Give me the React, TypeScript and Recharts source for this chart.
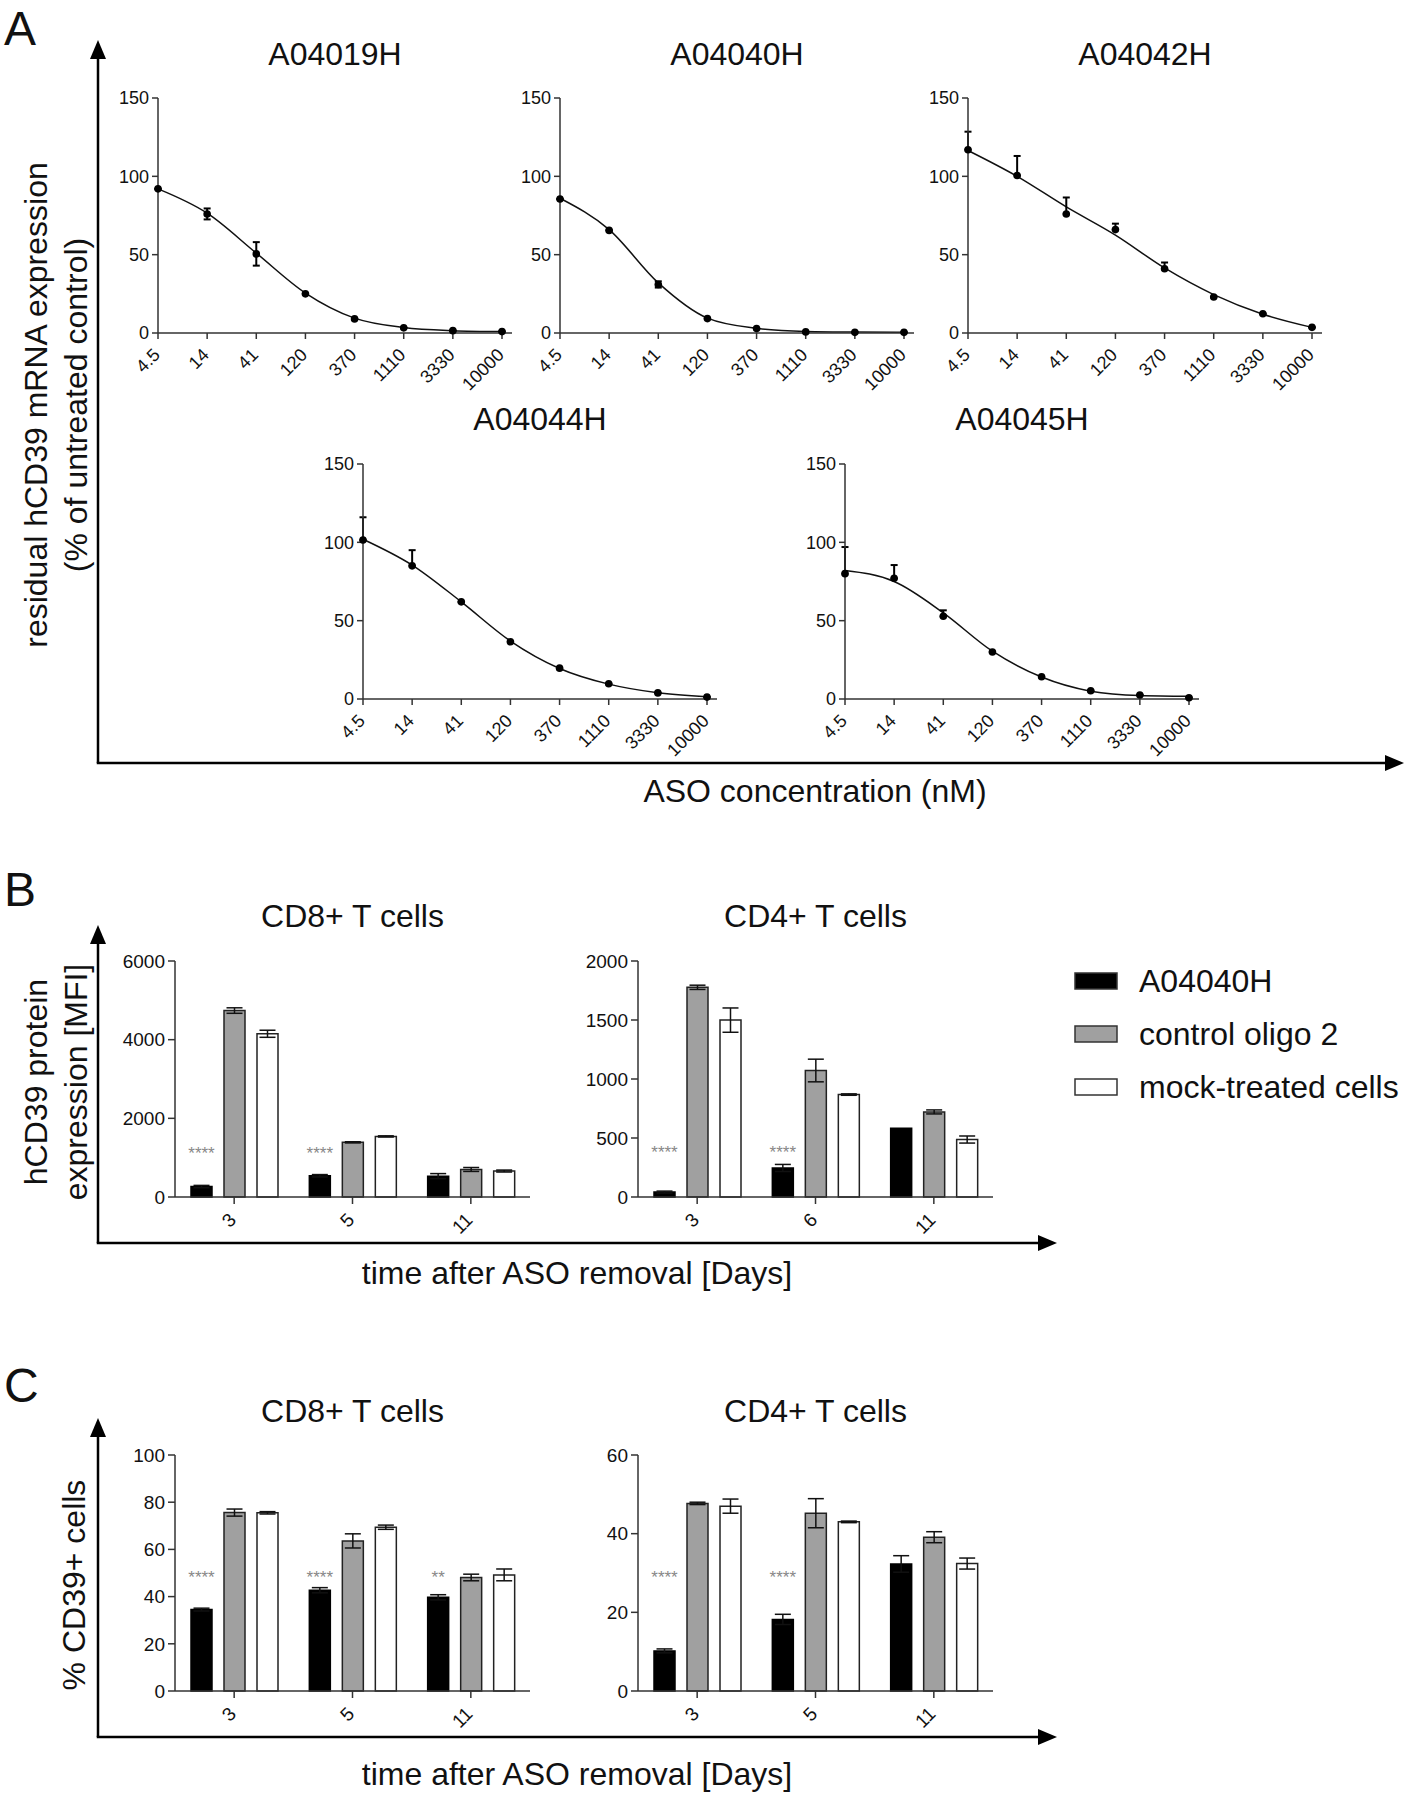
import React from 'react';
import { Bar, BarChart, ErrorBar, LabelList, Line, LineChart, XAxis, YAxis } from 'recharts';

const FONT = '"Liberation Sans", Arial, Helvetica, sans-serif';
const INK = '#111';
const AXIS = '#333';

// ---- panel A: dose response ----
const doses = ['4.5', '14', '41', '120', '370', '1110', '3330', '10000'];
const curveTicks = [0, 50, 100, 150];

const a04019hMean = [92, 76, 50.5, 25, 9, 3.3, 1.5, 0.9];
const a04019hFit = [92, 76.5, 51, 25.5, 9.5, 3.5, 1.5, 0.9];
const a04019hErrLow = [0, 3.5, 7.5, 0, 0, 0, 0, 0];
const a04019hErrHigh = [0, 3.5, 7.5, 0, 0, 0, 0, 0];

const a04040hMean = [85.5, 65.5, 31, 9.2, 2.8, 0.7, 0.4, 0.4];
const a04040hFit = [86, 66, 32, 9.5, 3, 1, 0.6, 0.5];
const a04040hErrLow = [0, 0, 2, 0, 0, 0, 0, 0];
const a04040hErrHigh = [0, 0, 2, 0, 0, 0, 0, 0];

const a04042hMean = [117, 100.5, 76, 66, 41, 23, 12.3, 3.6];
const a04042hFit = [116.5, 100, 80.5, 62.5, 41.5, 24.5, 12, 3.6];
const a04042hErrLow = [0, 0, 0, 0, 0, 0, 0, 0];
const a04042hErrHigh = [11.5, 12.5, 10.5, 3.8, 4, 0, 0, 0];

const a04044hMean = [101.5, 85, 62, 36.5, 19.7, 9.7, 3.9, 1.2];
const a04044hFit = [102, 85.5, 62, 37, 19.5, 9.5, 4, 1.5];
const a04044hErrLow = [0, 0, 0, 0, 0, 0, 0, 0];
const a04044hErrHigh = [14.5, 10, 0, 0, 0, 0, 0, 0];

const a04045hMean = [80, 77, 52.8, 30, 14.2, 5.3, 2.6, 0.8];
const a04045hFit = [82, 75, 55, 30.5, 14, 5, 2.2, 1.7];
const a04045hErrLow = [0, 0, 0, 0, 0, 0, 0, 0];
const a04045hErrHigh = [17, 8.5, 3.8, 0, 0, 0, 0, 0];

// ---- panels B / C: bars ----
const seriesNames = ['A04040H', 'control oligo 2', 'mock-treated cells'];
const seriesFills = ['#000000', '#a0a0a0', '#ffffff'];

const daysB8 = ['3', '5', '11'];
const b8Aso = [265, 540, 530];
const b8AsoErr = [30, 30, 65];
const b8Ctrl = [4740, 1390, 700];
const b8CtrlErr = [70, 15, 50];
const b8Mock = [4150, 1540, 660];
const b8MockErr = [90, 15, 25];
const b8Stars = ['****', '****', ''];

const daysB4 = ['3', '6', '11'];
const b4Aso = [42, 246, 583];
const b4AsoErr = [8, 30, 0];
const b4Ctrl = [1777, 1072, 721];
const b4CtrlErr = [18, 96, 17];
const b4Mock = [1499, 868, 487];
const b4MockErr = [103, 6, 30];
const b4Stars = ['****', '****', ''];

const daysC8 = ['3', '5', '11'];
const c8Aso = [34.5, 42.7, 39.7];
const c8AsoErr = [0.6, 1.1, 1.1];
const c8Ctrl = [75.6, 63.6, 48.1];
const c8CtrlErr = [1.5, 3, 1.4];
const c8Mock = [75.5, 69.4, 49.2];
const c8MockErr = [0.5, 0.9, 2.5];
const c8Stars = ['****', '****', '**'];

const daysC4 = ['3', '5', '11'];
const c4Aso = [10.2, 18.2, 32.3];
const c4AsoErr = [0.5, 1.3, 2.1];
const c4Ctrl = [47.7, 45.2, 39.1];
const c4CtrlErr = [0.3, 3.7, 1.4];
const c4Mock = [47.0, 43.0, 32.4];
const c4MockErr = [1.8, 0.2, 1.4];
const c4Stars = ['****', '****', ''];

type Rect = { left: number; top: number; right: number; bottom: number };

const Y_W = 60;
const PAD_T = 14;
const PAD_R = 14;
const X_H = 70;

function place(r: Rect) {
  return {
    style: { position: 'absolute' as const, left: r.left - Y_W, top: r.top - PAD_T },
    width: Y_W + (r.right - r.left) + PAD_R,
    height: PAD_T + (r.bottom - r.top) + X_H,
    margin: { top: PAD_T, right: PAD_R, left: 0, bottom: 0 },
  };
}

const mid = (r: Rect) => (r.left + r.right) / 2;

function DiagTick(props: any) {
  const { x, y, payload, size } = props;
  const ax = x + 3;
  const ay = y + 15;
  return (
    <text x={ax} y={ay} transform={`rotate(-45 ${ax} ${ay})`} textAnchor="end" fontSize={size} fill={INK} fontFamily={FONT}>
      {payload.value}
    </text>
  );
}

type Compound = { name: string; mean: number[]; fit: number[]; lo: number[]; hi: number[]; rect: Rect; titleY: number };

const compounds: Compound[] = [
  { name: 'A04019H', mean: a04019hMean, fit: a04019hFit, lo: a04019hErrLow, hi: a04019hErrHigh, rect: { left: 158, top: 98, right: 512, bottom: 333 }, titleY: 65 },
  { name: 'A04040H', mean: a04040hMean, fit: a04040hFit, lo: a04040hErrLow, hi: a04040hErrHigh, rect: { left: 560, top: 98, right: 914, bottom: 333 }, titleY: 65 },
  { name: 'A04042H', mean: a04042hMean, fit: a04042hFit, lo: a04042hErrLow, hi: a04042hErrHigh, rect: { left: 968, top: 98, right: 1322, bottom: 333 }, titleY: 65 },
  { name: 'A04044H', mean: a04044hMean, fit: a04044hFit, lo: a04044hErrLow, hi: a04044hErrHigh, rect: { left: 363, top: 464, right: 717, bottom: 699 }, titleY: 430 },
  { name: 'A04045H', mean: a04045hMean, fit: a04045hFit, lo: a04045hErrLow, hi: a04045hErrHigh, rect: { left: 845, top: 464, right: 1199, bottom: 699 }, titleY: 430 },
];

function DoseCurve({ c }: { c: Compound }) {
  const rows = doses.map((dose, i) => ({ dose, mean: c.mean[i], fit: c.fit[i], err: [c.lo[i], c.hi[i]] }));
  const p = place(c.rect);
  return (
    <div style={p.style}>
      <LineChart width={p.width} height={p.height} data={rows} margin={p.margin}>
        <XAxis
          dataKey="dose"
          scale="point"
          interval={0}
          height={X_H}
          padding={{ left: 0, right: 10 }}
          tickSize={6}
          tickMargin={2}
          stroke={AXIS}
          strokeWidth={1.5}
          tick={<DiagTick size={18} />}
        />
        <YAxis
          width={Y_W}
          domain={[0, 150]}
          ticks={curveTicks}
          interval={0}
          tickSize={6}
          tickMargin={3}
          stroke={AXIS}
          strokeWidth={1.5}
          tick={{ fontSize: 18, fill: INK, fontFamily: FONT }}
        />
        <Line dataKey="fit" type="monotone" stroke="#111" strokeWidth={1.5} dot={false} activeDot={false} isAnimationActive={false} />
        <Line dataKey="mean" stroke="none" dot={{ r: 3.8, fill: '#000', stroke: '#000', strokeWidth: 0 }} activeDot={false} isAnimationActive={false}>
          <ErrorBar dataKey="err" direction="y" width={3.5} stroke="#000" strokeWidth={2} />
        </Line>
      </LineChart>
    </div>
  );
}

type Group = {
  title: string; days: string[]; aso: number[]; asoErr: number[]; ctrl: number[]; ctrlErr: number[];
  mock: number[]; mockErr: number[]; stars: string[]; starLevel: number; max: number; ticks: number[]; rect: Rect; titleY: number;
};

const groups: Group[] = [
  { title: 'CD8+ T cells', days: daysB8, aso: b8Aso, asoErr: b8AsoErr, ctrl: b8Ctrl, ctrlErr: b8CtrlErr, mock: b8Mock, mockErr: b8MockErr, stars: b8Stars, starLevel: 1230, max: 6000, ticks: [0, 2000, 4000, 6000], rect: { left: 175, top: 961, right: 530, bottom: 1197 }, titleY: 927 },
  { title: 'CD4+ T cells', days: daysB4, aso: b4Aso, asoErr: b4AsoErr, ctrl: b4Ctrl, ctrlErr: b4CtrlErr, mock: b4Mock, mockErr: b4MockErr, stars: b4Stars, starLevel: 416, max: 2000, ticks: [0, 500, 1000, 1500, 2000], rect: { left: 638, top: 961, right: 993, bottom: 1197 }, titleY: 927 },
  { title: 'CD8+ T cells', days: daysC8, aso: c8Aso, asoErr: c8AsoErr, ctrl: c8Ctrl, ctrlErr: c8CtrlErr, mock: c8Mock, mockErr: c8MockErr, stars: c8Stars, starLevel: 49.8, max: 100, ticks: [0, 20, 40, 60, 80, 100], rect: { left: 175, top: 1455, right: 530, bottom: 1691 }, titleY: 1422 },
  { title: 'CD4+ T cells', days: daysC4, aso: c4Aso, asoErr: c4AsoErr, ctrl: c4Ctrl, ctrlErr: c4CtrlErr, mock: c4Mock, mockErr: c4MockErr, stars: c4Stars, starLevel: 29.9, max: 60, ticks: [0, 20, 40, 60], rect: { left: 638, top: 1455, right: 993, bottom: 1691 }, titleY: 1422 },
];

function StarMark(props: any) {
  const { index, value, rows, level } = props;
  if (!value) return null;
  const vb = props.viewBox && props.viewBox.width !== undefined ? props.viewBox : props;
  const { x, y, width, height } = vb;
  const row = rows[index];
  if (!row || !row.a || !height) return null;
  const base = y + height;
  const sy = base - (level / row.a) * height;
  return (
    <text x={x + width / 2} y={sy + 10} textAnchor="middle" fontSize={17} fill="#888" fontFamily={FONT}>
      {value}
    </text>
  );
}

function GroupBars({ g }: { g: Group }) {
  const rows = g.days.map((day, i) => ({
    day, a: g.aso[i], aErr: g.asoErr[i], c: g.ctrl[i], cErr: g.ctrlErr[i], m: g.mock[i], mErr: g.mockErr[i], star: g.stars[i],
  }));
  const p = place(g.rect);
  return (
    <div style={p.style}>
      <BarChart width={p.width} height={p.height} data={rows} margin={p.margin} barGap={12}>
        <XAxis dataKey="day" interval={0} height={X_H} tickSize={7} tickMargin={2} stroke={AXIS} strokeWidth={1.5} tick={<DiagTick size={19} />} />
        <YAxis
          width={Y_W}
          domain={[0, g.max]}
          ticks={g.ticks}
          interval={0}
          tickSize={7}
          tickMargin={3}
          stroke={AXIS}
          strokeWidth={1.5}
          tick={{ fontSize: 19, fill: INK, fontFamily: FONT }}
        />
        <Bar dataKey="a" barSize={21} fill={seriesFills[0]} stroke="#000" strokeWidth={1.5} isAnimationActive={false}>
          <ErrorBar dataKey="aErr" direction="y" width={8} stroke="#111" strokeWidth={1.5} />
          <LabelList dataKey="star" content={(lp: any) => <StarMark {...lp} rows={rows} level={g.starLevel} />} />
        </Bar>
        <Bar dataKey="c" barSize={21} fill={seriesFills[1]} stroke="#222" strokeWidth={1.5} isAnimationActive={false}>
          <ErrorBar dataKey="cErr" direction="y" width={8} stroke="#111" strokeWidth={1.5} />
        </Bar>
        <Bar dataKey="m" barSize={21} fill={seriesFills[2]} stroke="#222" strokeWidth={1.5} isAnimationActive={false}>
          <ErrorBar dataKey="mErr" direction="y" width={8} stroke="#111" strokeWidth={1.5} />
        </Bar>
      </BarChart>
    </div>
  );
}

function VArrow({ x, tip, base }: { x: number; tip: number; base: number }) {
  return (
    <g>
      <line x1={x} y1={base} x2={x} y2={tip + 12} stroke="#000" strokeWidth={2.5} />
      <polygon points={`${x},${tip} ${x - 8},${tip + 19} ${x + 8},${tip + 19}`} fill="#000" />
    </g>
  );
}

function HArrow({ y, from, tip }: { y: number; from: number; tip: number }) {
  return (
    <g>
      <line x1={from - 1.25} y1={y} x2={tip - 12} y2={y} stroke="#000" strokeWidth={2.5} />
      <polygon points={`${tip},${y} ${tip - 19},${y - 8} ${tip - 19},${y + 8}`} fill="#000" />
    </g>
  );
}

const BIG = 32;

function Overlay() {
  const txt = { fontFamily: FONT, fill: INK, fontSize: BIG };
  return (
    <svg width={1418} height={1793} style={{ position: 'absolute', left: 0, top: 0, pointerEvents: 'none' }}>
      <text x={4} y={45} {...txt} fontSize={48}>A</text>
      <text x={4} y={906} {...txt} fontSize={48}>B</text>
      <text x={4} y={1402} {...txt} fontSize={48}>C</text>

      <VArrow x={98} tip={40} base={763} />
      <HArrow y={763} from={98} tip={1404} />
      <VArrow x={98} tip={925} base={1243} />
      <HArrow y={1243} from={98} tip={1057} />
      <VArrow x={98} tip={1418} base={1737} />
      <HArrow y={1737} from={98} tip={1057} />

      {compounds.map((c) => (
        <text key={c.name} x={mid(c.rect)} y={c.titleY} textAnchor="middle" {...txt}>{c.name}</text>
      ))}
      {groups.map((g, i) => (
        <text key={i} x={mid(g.rect)} y={g.titleY} textAnchor="middle" {...txt}>{g.title}</text>
      ))}

      <text transform="translate(47 405) rotate(-90)" textAnchor="middle" {...txt}>residual hCD39 mRNA expression</text>
      <text transform="translate(87 405) rotate(-90)" textAnchor="middle" {...txt}>(% of untreated control)</text>
      <text x={815} y={802} textAnchor="middle" {...txt}>ASO concentration (nM)</text>

      <text transform="translate(47 1082) rotate(-90)" textAnchor="middle" {...txt}>hCD39 protein</text>
      <text transform="translate(87 1082) rotate(-90)" textAnchor="middle" {...txt}>expression [MFI]</text>
      <text x={577} y={1284} textAnchor="middle" {...txt}>time after ASO removal [Days]</text>

      <text transform="translate(85 1585) rotate(-90)" textAnchor="middle" {...txt}>% CD39+ cells</text>
      <text x={577} y={1785} textAnchor="middle" {...txt}>time after ASO removal [Days]</text>

      {seriesNames.map((name, i) => {
        const cy = 981 + i * 53;
        return (
          <g key={name}>
            <rect x={1075} y={cy - 8} width={42} height={16} fill={seriesFills[i]} stroke="#333" strokeWidth={1.5} />
            <text x={1139} y={cy + 11} {...txt}>{name}</text>
          </g>
        );
      })}
    </svg>
  );
}

export default function App() {
  return (
    <div style={{ position: 'relative', width: 1418, height: 1793, background: '#fff', overflow: 'hidden' }}>
      <style>{'body{margin:0}'}</style>
      {compounds.map((c) => (
        <DoseCurve key={c.name} c={c} />
      ))}
      {groups.map((g, i) => (
        <GroupBars key={i} g={g} />
      ))}
      <Overlay />
    </div>
  );
}
